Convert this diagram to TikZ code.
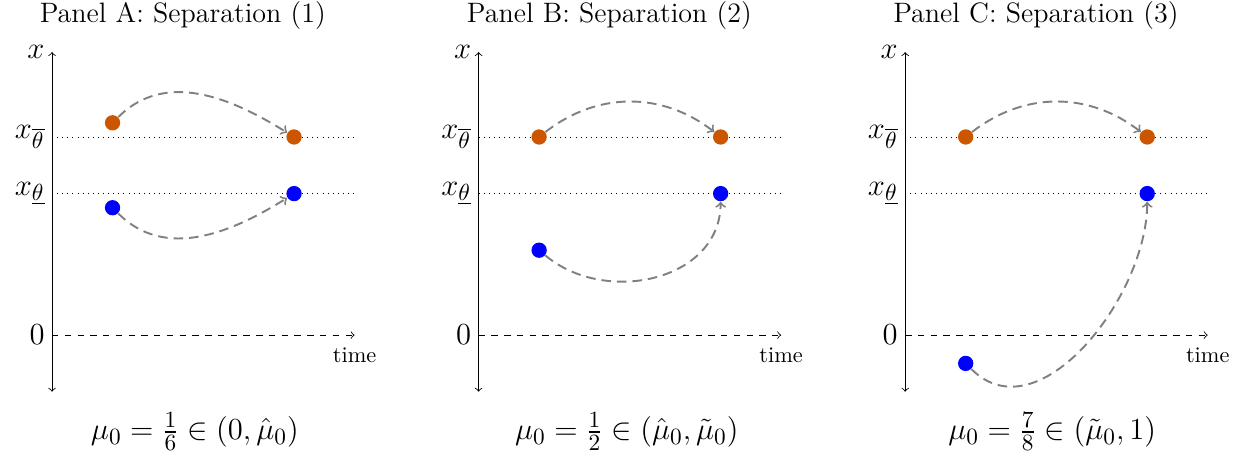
\documentclass[tikz,border=0pt]{standalone}
\usepackage{amsmath,amssymb}
\usepackage{tikz}
\definecolor{burnt}{RGB}{204,85,0}
\tikzset{
  dot/.style={circle, inner sep=0pt, minimum size=7.2pt},
  move/.style={->, gray, line width=0.9pt, dash pattern=on 4.5pt off 2.8pt},
  level/.style={dotted},
  ttl/.style={font=\fontsize{13.2}{16}\selectfont},
  axlbl/.style={left, font=\fontsize{15}{18}\selectfont},
  mulbl/.style={font=\fontsize{15}{18}\selectfont},
  timelbl/.style={font=\fontsize{10.5}{12}\selectfont}
}

\begin{document}
\begin{tikzpicture}[x=1cm, y=0.9355cm]
    \useasboundingbox (-0.86,-2.14) rectangle (19.65,5.92);
    % Panel A
    \begin{scope}
    \node[ttl] (A-title) at (2.16,5.65) {Panel A: Separation (1)};
    \coordinate (A-bot) at (0,-1);
    \coordinate (A-top) at (0,5);
    \coordinate (A-o) at (0,0);
    \coordinate (A-end) at (5,0);
    \coordinate (A-hl) at (0,3.5);
    \coordinate (A-hr) at (5,3.5);
    \coordinate (A-ll) at (0,2.5);
    \coordinate (A-lr) at (5,2.5);
    \draw[<->] (A-bot)--(A-top);
    \draw[->, dashed] (A-o)--(A-end);
    \draw[level] (A-hl)--(A-hr);
    \draw[level] (A-ll)--(A-lr);
    \node[axlbl] (A-x) at (A-top) {$x$};
    \node[axlbl] (A-xh) at (A-hl) {$x_{\overline{\theta}}$};
    \node[axlbl] (A-xl) at (A-ll) {$x_{\underline{\theta}}$};
    \node[axlbl] (A-zero) at (A-o) {$0$};
    \node[timelbl] (A-time) at (5,-0.35) {time};
    \node[dot, fill=burnt] (A-o1) at (1,3.75) {};
    \node[dot, fill=burnt] (A-o2) at (4,3.5) {};
    \node[dot, fill=blue] (A-b1) at (1,2.25) {};
    \node[dot, fill=blue] (A-b2) at (4,2.5) {};
    \draw[move] (A-o1) to[out=45, in=148] (A-o2);
    \draw[move] (A-b1) to[out=-45, in=-148] (A-b2);
    \node[mulbl] (A-mu) at (2.36,-1.7) {$\mu_0=\frac{1}{6}\in(0,\hat{\mu}_0)$};
    \end{scope}
    % Panel B
    \begin{scope}[xshift=7.05cm]
    \node[ttl] (B-title) at (2.16,5.65) {Panel B: Separation (2)};
    \coordinate (B-bot) at (0,-1);
    \coordinate (B-top) at (0,5);
    \coordinate (B-o) at (0,0);
    \coordinate (B-end) at (5,0);
    \coordinate (B-hl) at (0,3.5);
    \coordinate (B-hr) at (5,3.5);
    \coordinate (B-ll) at (0,2.5);
    \coordinate (B-lr) at (5,2.5);
    \draw[<->] (B-bot)--(B-top);
    \draw[->, dashed] (B-o)--(B-end);
    \draw[level] (B-hl)--(B-hr);
    \draw[level] (B-ll)--(B-lr);
    \node[axlbl] (B-x) at (B-top) {$x$};
    \node[axlbl] (B-xh) at (B-hl) {$x_{\overline{\theta}}$};
    \node[axlbl] (B-xl) at (B-ll) {$x_{\underline{\theta}}$};
    \node[axlbl] (B-zero) at (B-o) {$0$};
    \node[timelbl] (B-time) at (5,-0.35) {time};
    \node[dot, fill=burnt] (B-o1) at (1,3.5) {};
    \node[dot, fill=burnt] (B-o2) at (4,3.5) {};
    \node[dot, fill=blue] (B-b1) at (1,1.5) {};
    \node[dot, fill=blue] (B-b2) at (4,2.5) {};
    \draw[move] (B-o1) to[out=38, in=142] (B-o2);
    \draw[move] (B-b1) to[out=-40, in=-90, looseness=1.1] (B-b2);
    \node[mulbl] (B-mu) at (2.45,-1.7) {$\mu_0=\frac{1}{2}\in(\hat{\mu}_0,\tilde{\mu}_0)$};
    \end{scope}
    % Panel C
    \begin{scope}[xshift=14.1cm]
    \node[ttl] (C-title) at (2.16,5.65) {Panel C: Separation (3)};
    \coordinate (C-bot) at (0,-1);
    \coordinate (C-top) at (0,5);
    \coordinate (C-o) at (0,0);
    \coordinate (C-end) at (5,0);
    \coordinate (C-hl) at (0,3.5);
    \coordinate (C-hr) at (5,3.5);
    \coordinate (C-ll) at (0,2.5);
    \coordinate (C-lr) at (5,2.5);
    \draw[<->] (C-bot)--(C-top);
    \draw[->, dashed] (C-o)--(C-end);
    \draw[level] (C-hl)--(C-hr);
    \draw[level] (C-ll)--(C-lr);
    \node[axlbl] (C-x) at (C-top) {$x$};
    \node[axlbl] (C-xh) at (C-hl) {$x_{\overline{\theta}}$};
    \node[axlbl] (C-xl) at (C-ll) {$x_{\underline{\theta}}$};
    \node[axlbl] (C-zero) at (C-o) {$0$};
    \node[timelbl] (C-time) at (5,-0.35) {time};
    \node[dot, fill=burnt] (C-o1) at (1,3.5) {};
    \node[dot, fill=burnt] (C-o2) at (4,3.5) {};
    \node[dot, fill=blue] (C-b1) at (1,-0.5) {};
    \node[dot, fill=blue] (C-b2) at (4,2.5) {};
    \draw[move] (C-o1) to[out=38, in=142] (C-o2);
    \draw[move] (C-b1) to[out=-45, in=-90] (C-b2);
    \node[mulbl] (C-mu) at (2.43,-1.7) {$\mu_0=\frac{7}{8}\in(\tilde{\mu}_0,1)$};
    \end{scope}
\end{tikzpicture}
\end{document}
